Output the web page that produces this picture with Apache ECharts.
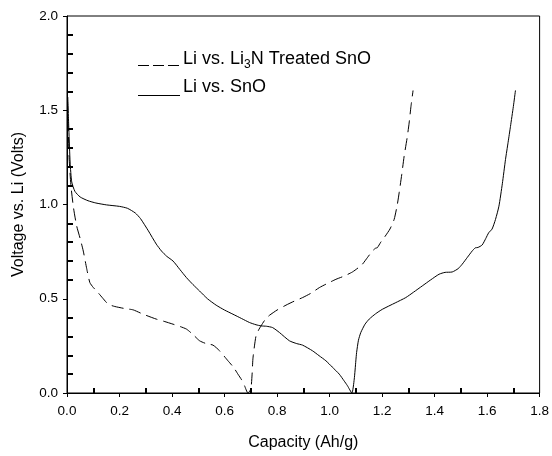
<!DOCTYPE html>
<html>
<head>
<meta charset="utf-8">
<script src="https://cdn.jsdelivr.net/npm/echarts@6/dist/echarts.min.js"></script>
<style>html,body{margin:0;padding:0;background:#fff}#c{width:552px;height:456px}</style>
</head>
<body>
<div id="c"></div>
<script>
// ---- data ----
var snoCapacity = [0.003,0.007,0.012,0.018,0.03,0.05,0.08,0.11,0.15,0.2,0.23,0.26,0.28,0.31,0.34,0.36,0.38,0.404,0.43,0.455,0.48,0.505,0.535,0.568,0.6,0.632,0.665,0.695,0.72,0.739,0.76,0.783,0.809,0.847,0.875,0.897,0.935,0.96,0.986,1.01,1.037,1.055,1.068,1.085,1.094,1.1,1.103,1.11,1.119,1.135,1.151,1.175,1.201,1.25,1.29,1.32,1.353,1.385,1.417,1.44,1.467,1.49,1.505,1.525,1.543,1.555,1.565,1.581,1.595,1.606,1.619,1.632,1.645,1.658,1.67,1.68,1.689,1.7,1.708];
var snoVoltage  = [1.57,1.4,1.22,1.12,1.07,1.04,1.02,1.008,0.998,0.99,0.98,0.955,0.925,0.86,0.79,0.753,0.725,0.7,0.655,0.612,0.575,0.541,0.5,0.466,0.44,0.418,0.395,0.374,0.362,0.356,0.354,0.347,0.321,0.277,0.262,0.254,0.224,0.198,0.171,0.138,0.1,0.065,0.039,0.0,0.074,0.17,0.215,0.28,0.321,0.365,0.392,0.42,0.444,0.478,0.506,0.535,0.568,0.6,0.63,0.64,0.642,0.66,0.683,0.72,0.753,0.77,0.772,0.785,0.82,0.85,0.87,0.921,0.991,1.11,1.238,1.33,1.414,1.52,1.605];
var li3nCapacity = [0.002,0.008,0.015,0.025,0.037,0.05,0.062,0.075,0.087,0.1,0.113,0.135,0.157,0.182,0.22,0.252,0.29,0.34,0.37,0.404,0.43,0.455,0.48,0.505,0.53,0.556,0.581,0.613,0.635,0.651,0.665,0.676,0.689,0.7,0.705,0.708,0.714,0.72,0.73,0.739,0.755,0.771,0.8,0.834,0.865,0.897,0.93,0.961,0.99,1.024,1.055,1.087,1.11,1.125,1.145,1.163,1.175,1.182,1.195,1.208,1.23,1.246,1.258,1.265,1.275,1.284,1.295,1.303,1.31,1.318];
var li3nVoltage  = [1.55,1.25,1.1,0.98,0.885,0.82,0.753,0.66,0.586,0.56,0.541,0.505,0.471,0.459,0.448,0.441,0.418,0.392,0.38,0.365,0.353,0.339,0.31,0.277,0.262,0.254,0.224,0.171,0.135,0.1,0.07,0.039,0.0,0.02,0.1,0.18,0.25,0.303,0.335,0.356,0.39,0.412,0.44,0.466,0.487,0.506,0.53,0.559,0.58,0.603,0.62,0.642,0.665,0.683,0.72,0.753,0.768,0.771,0.8,0.824,0.87,0.921,1.0,1.062,1.16,1.256,1.35,1.432,1.52,1.605];
var xTickLabels = [0,0.2,0.4,0.6,0.8,1.0,1.2,1.4,1.6,1.8];
var xMinorTicks = [0.1,0.3,0.5,0.7,0.9,1.1,1.3,1.5,1.7];
var yTickLabels = [0,0.5,1.0,1.5,2.0];
var yMinorTicks = [0.1,0.2,0.3,0.4,0.6,0.7,0.8,0.9,1.1,1.2,1.3,1.4,1.6,1.7,1.8,1.9];
var legendLabels = ['Li vs. Li', '3', 'N Treated SnO', 'Li vs. SnO'];
var xTitle = 'Capacity (Ah/g)';
var yTitle = 'Voltage vs. Li (Volts)';

function pairs(xs, ys){ return xs.map(function(x,i){ return [x, ys[i]]; }); }

var FONT = '"Liberation Sans", Arial, sans-serif';
var chart = echarts.init(document.getElementById('c'), null, {renderer:'canvas'});
var fmt = function(v){ return v.toFixed(1); };
chart.setOption({
  animation: false,
  backgroundColor: '#fff',
  textStyle: {fontFamily: FONT, color: '#000'},
  grid: {left: 67, right: 11, top: 16, bottom: 62, show: true, borderColor: '#000', borderWidth: 1, backgroundColor: 'transparent'},
  xAxis: [{
    type: 'value', min: 0, max: 1.8, interval: 0.2,
    name: xTitle, nameLocation: 'middle', nameGap: 42,
    nameTextStyle: {fontSize: 16, color: '#000', fontFamily: FONT},
    axisLine: {show: true, onZero: false, lineStyle: {color: '#000', width: 1}},
    axisTick: {show: true, inside: false, length: 4, lineStyle: {color: '#000', width: 1}, customValues: xTickLabels},
    axisLabel: {show: true, fontSize: 13.5, color: '#000', margin: 11, fontFamily: FONT, formatter: fmt, customValues: xTickLabels},
    splitLine: {show: false}
  }, {
    type: 'value', min: 0, max: 1.8, position: 'bottom',
    axisLine: {show: false, onZero: false},
    axisTick: {show: true, inside: true, length: 5, lineStyle: {color: '#000', width: 2}, customValues: xMinorTicks},
    axisLabel: {show: false},
    splitLine: {show: false}
  }],
  yAxis: [{
    type: 'value', min: 0, max: 2.0, interval: 0.5,
    name: yTitle, nameLocation: 'middle', nameGap: 40, nameRotate: 90,
    nameTextStyle: {fontSize: 16, color: '#000', fontFamily: FONT},
    axisLine: {show: true, onZero: false, lineStyle: {color: '#000', width: 1}},
    axisTick: {show: true, inside: false, length: 4, lineStyle: {color: '#000', width: 1}, customValues: yTickLabels},
    axisLabel: {show: true, fontSize: 13.5, color: '#000', margin: 9, fontFamily: FONT, formatter: fmt, customValues: yTickLabels},
    splitLine: {show: false}
  }, {
    type: 'value', min: 0, max: 2.0, position: 'left',
    axisLine: {show: false, onZero: false},
    axisTick: {show: true, inside: true, length: 6, lineStyle: {color: '#000', width: 2}, customValues: yMinorTicks},
    axisLabel: {show: false},
    splitLine: {show: false}
  }],
  series: [{
    name: legendLabels[0] + legendLabels[1] + legendLabels[2],
    type: 'line', xAxisIndex: 0, yAxisIndex: 0,
    data: pairs(li3nCapacity, li3nVoltage),
    showSymbol: false, smooth: 0.2,
    lineStyle: {color: '#000', width: 1, type: [12, 6]}
  }, {
    name: legendLabels[3],
    type: 'line', xAxisIndex: 0, yAxisIndex: 0,
    data: pairs(snoCapacity, snoVoltage),
    showSymbol: false, smooth: 0.2,
    lineStyle: {color: '#000', width: 1, type: 'solid'}
  }],
  graphic: [
    {type: 'line', shape: {x1: 138, y1: 65.5, x2: 180, y2: 65.5}, style: {stroke: '#000', lineWidth: 1, lineDash: [11, 4]}},
    {type: 'line', shape: {x1: 138, y1: 95.5, x2: 180, y2: 95.5}, style: {stroke: '#000', lineWidth: 1}},
    {type: 'text', left: 183, top: 47, style: {
      text: '{a|' + legendLabels[0] + '}{s|' + legendLabels[1] + '}{a|' + legendLabels[2] + '}',
      fill: '#000', font: '18px ' + FONT,
      rich: {
        a: {fontSize: 18, fontFamily: FONT, lineHeight: 24, fill: '#000', verticalAlign: 'middle'},
        s: {fontSize: 12, fontFamily: FONT, lineHeight: 12, fill: '#000', verticalAlign: 'top', padding: [12, 0, 0, 0]}
      }
    }},
    {type: 'text', left: 183, top: 78, style: {text: legendLabels[3], fill: '#000', font: '18px ' + FONT}}
  ]
});
</script>
</body>
</html>
